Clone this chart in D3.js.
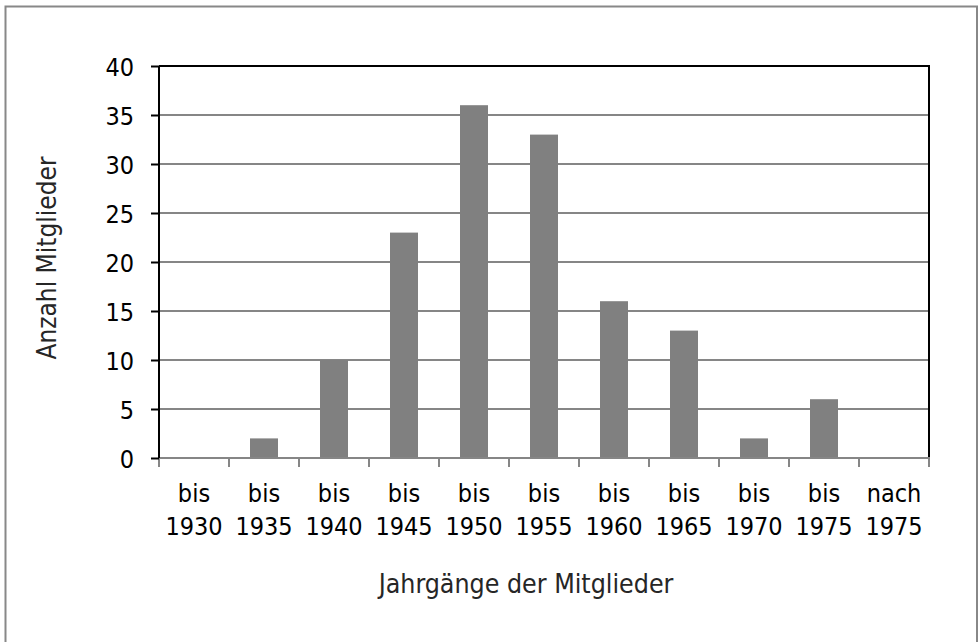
<!DOCTYPE html>
<html><head><meta charset="utf-8">
<script src="https://cdn.jsdelivr.net/npm/d3@7/dist/d3.min.js"></script>
<style>
html,body{margin:0;padding:0;background:#fff;}
svg{display:block;font-family:"DejaVu Sans Condensed","DejaVu Sans",Verdana,sans-serif;}
</style></head>
<body>
<svg id="chart" width="980" height="642"></svg>
<script>
const categoriesTop = ["bis","bis","bis","bis","bis","bis","bis","bis","bis","bis","nach"];
const categoriesBottom = ["1930","1935","1940","1945","1950","1955","1960","1965","1970","1975","1975"];
const values = [0,2,10,23,36,33,16,13,2,6,0];
const yTicks = [0,5,10,15,20,25,30,35,40];
const yTitle = "Anzahl Mitglieder";
const xTitle = "Jahrgänge der Mitglieder";

const FS = 25;
const FF = '"DejaVu Sans Condensed","DejaVu Sans",sans-serif';
const svg = d3.select("#chart");
const L = 159, R = 929, T = 66, B = 458;
const idx = d3.range(values.length);

// outer border
svg.append("rect").attr("x",5.5).attr("y",6.5).attr("width",971.5).attr("height",700)
  .attr("fill","none").attr("stroke","#888").attr("stroke-width",2);

const x = d3.scaleBand().domain(idx).range([L,R]).paddingInner(0).paddingOuter(0);
const y = d3.scaleLinear().domain([0,40]).range([B,T]);
const barW = x.bandwidth()*0.4;

// gridlines
svg.append("g").selectAll("line").data(yTicks.filter(d=>d>0 && d<40)).join("line")
  .attr("x1",L).attr("x2",R).attr("y1",d=>y(d)).attr("y2",d=>y(d))
  .attr("stroke","#868686").attr("stroke-width",2);

// bars
svg.append("g").selectAll("rect").data(idx).join("rect")
  .attr("x",i=>x(i)+(x.bandwidth()-barW)/2)
  .attr("width",barW)
  .attr("y",i=>y(values[i]))
  .attr("height",i=>B-y(values[i]))
  .attr("fill","#808080");

// top and right plot lines
svg.append("line").attr("x1",L).attr("x2",R+1).attr("y1",T).attr("y2",T).attr("stroke","#000").attr("stroke-width",2);
svg.append("line").attr("x1",R).attr("x2",R).attr("y1",T).attr("y2",B).attr("stroke","#000").attr("stroke-width",2);

// x axis line + ticks (gray)
svg.append("line").attr("x1",L).attr("x2",R+1).attr("y1",B).attr("y2",B).attr("stroke","#868686").attr("stroke-width",2);
const bounds = d3.range(values.length+1).map(i => i<values.length ? x(i) : R);
svg.append("g").selectAll("line").data(bounds).join("line")
  .attr("x1",d=>d).attr("x2",d=>d).attr("y1",B).attr("y2",B+9)
  .attr("stroke","#868686").attr("stroke-width",2);

// y axis via d3
const yAxis = d3.axisLeft(y).tickValues(yTicks).tickSize(8).tickPadding(17).tickFormat(d3.format("d"));
const gy = svg.append("g").attr("transform",`translate(${L},0)`).call(yAxis);
gy.select(".domain").attr("stroke","#000").attr("stroke-width",2).attr("d",`M0,${T}V${B}`);
gy.selectAll(".tick line").attr("stroke","#000").attr("stroke-width",2);
gy.selectAll(".tick text").attr("font-size",FS).attr("fill","#000")
  .attr("font-family",FF).attr("dy","0.36em");

// x labels
const gx = svg.append("g");
gx.selectAll("text.t1").data(idx).join("text").attr("class","t1")
  .attr("x",i=>x(i)+x.bandwidth()/2).attr("y",502)
  .attr("text-anchor","middle").attr("font-size",FS).attr("fill","#000")
  .text(i=>categoriesTop[i]);
gx.selectAll("text.t2").data(idx).join("text").attr("class","t2")
  .attr("x",i=>x(i)+x.bandwidth()/2).attr("y",535)
  .attr("text-anchor","middle").attr("font-size",FS).attr("fill","#000")
  .text(i=>categoriesBottom[i]);

// titles
svg.append("text").attr("x",526).attr("y",593).attr("text-anchor","middle")
  .attr("font-size",26.5).attr("fill","#262626").text(xTitle);
svg.append("text").attr("transform","translate(56,258) rotate(-90)").attr("text-anchor","middle")
  .attr("font-size",26).attr("fill","#262626").text(yTitle);
</script>
</body></html>
